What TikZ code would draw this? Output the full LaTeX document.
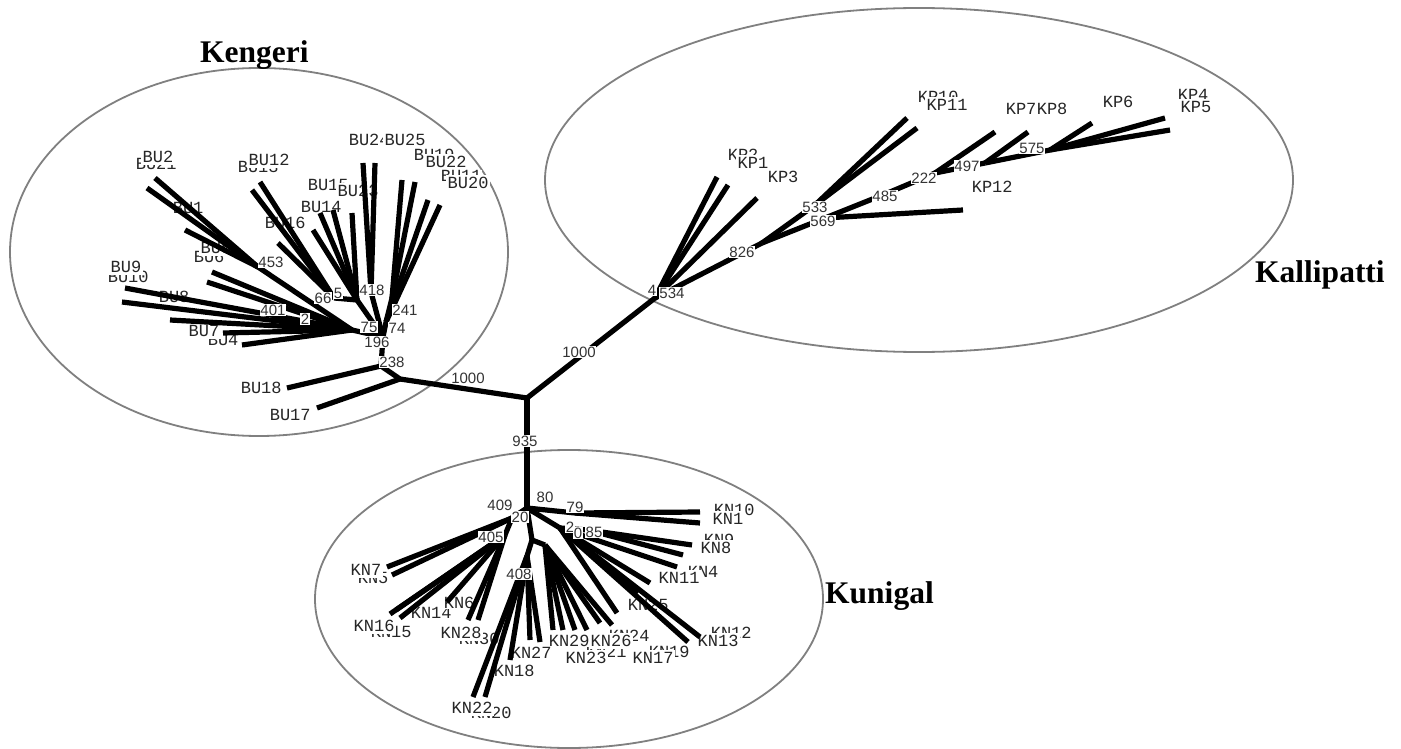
\documentclass[tikz,border=0pt]{standalone}
\usepackage{fontspec}
\setmainfont{Liberation Serif}
\newfontfamily\leaffont{Liberation Mono}
\newfontfamily\numfont{Liberation Sans}
\begin{document}
\begin{tikzpicture}[x=1pt,y=-1pt,
  br/.style={line width=5.2pt, black},
  leaf/.style={font=\leaffont\fontsize{17}{17}\selectfont, text=black!85, inner sep=0.6pt, anchor=west, fill=white},
  cover/.style={leaf, inner xsep=1.5pt, inner ysep=2.5pt},
  boot/.style={font=\numfont\fontsize{15}{15}\selectfont, text=black!80, fill=white, inner sep=0.8pt},
  grp/.style={font=\bfseries\fontsize{31.5}{32}\selectfont, anchor=base west, inner sep=0pt},
  hull/.style={draw=black!50, line width=1.8pt}]
\fill[white] (0,0) rectangle (1401,749);
\useasboundingbox (0,0) rectangle (1401,749);

% population hulls
\draw[hull] (259,252) ellipse [x radius=249pt, y radius=184pt];
\draw[hull] (919,180) ellipse [x radius=374pt, y radius=172pt];
\draw[hull] (569,599) ellipse [x radius=254pt, y radius=149pt];

% ---------- tree coordinates ----------
\coordinate (R) at (527,398);
% Kengeri
\coordinate (k1) at (400,379);
\coordinate (k2) at (381,366);
\coordinate (k3) at (383,337);
\coordinate (kA) at (386,322);
\coordinate (kB) at (392,298);
\coordinate (kC) at (371,292);
\coordinate (kD) at (357,300);
\coordinate (kE) at (334,298);
\coordinate (kG) at (352,330);
\coordinate (kF) at (258,267);
\coordinate (BU17e) at (317,408);
\coordinate (BU18e) at (287,388);
\coordinate (BU20a) at (428,200);
\coordinate (BU20b) at (440,205);
\coordinate (BU22a) at (402,180);
\coordinate (BU22b) at (415,182);
\coordinate (BU25a) at (363,163);
\coordinate (BU25b) at (375,163);
\coordinate (BU23e) at (352,213);
\coordinate (BU14a) at (320,213);
\coordinate (BU14b) at (333,210);
\coordinate (BU14c) at (313,230);
\coordinate (BU16e) at (278,243);
\coordinate (BU12a) at (260,182);
\coordinate (BU12b) at (252,190);
\coordinate (BU9e) at (125,288);
\coordinate (BU10e) at (122,302);
\coordinate (BU8e) at (170,320);
\coordinate (BU7e) at (223,333);
\coordinate (BU4e) at (242,345);
\coordinate (BU5e) at (212,272);
\coordinate (BU6e) at (207,282);
\coordinate (BU2a) at (155,178);
\coordinate (BU2b) at (147,188);
\coordinate (BU1e) at (185,230);
% Kallipatti
\coordinate (p0) at (655,298);
\coordinate (p1) at (762,243);
\coordinate (p2) at (815,205);
\coordinate (p3) at (825,218);
\coordinate (p4) at (890,192);
\coordinate (p5) at (935,173);
\coordinate (p6) at (985,163);
\coordinate (p7) at (1050,150);
\coordinate (KP1a) at (717,177);
\coordinate (KP1b) at (728,185);
\coordinate (KP3e) at (757,198);
\coordinate (KP11a) at (907,118);
\coordinate (KP11b) at (917,128);
\coordinate (KP12e) at (963,210);
\coordinate (KP7e) at (995,132);
\coordinate (KP8e) at (1028,132);
\coordinate (KP6e) at (1092,123);
\coordinate (KP4e) at (1165,118);
\coordinate (KP5e) at (1170,130);
% Kunigal
\coordinate (n0) at (527,508);
\coordinate (na) at (512,518);
\coordinate (nb) at (505,535);
\coordinate (nc) at (532,540);
\coordinate (nd) at (527,556);
\coordinate (ne) at (545,545);
\coordinate (nf) at (560,528);
\coordinate (ng) at (588,530);
\coordinate (nh) at (575,513);
\coordinate (KN7e) at (387,567);
\coordinate (KN5e) at (392,575);
\coordinate (KN14e) at (400,618);
\coordinate (KN16e) at (390,614);
\coordinate (KN15e) at (396,610);
\coordinate (KN6e) at (447,602);
\coordinate (KN28a) at (478,620);
\coordinate (KN28b) at (468,620);
\coordinate (KN22a) at (473,697);
\coordinate (KN22b) at (485,697);
\coordinate (KN18e) at (510,660);
\coordinate (KN27a) at (540,642);
\coordinate (KN27b) at (530,640);
\coordinate (KN23e) at (553,630);
\coordinate (KN29a) at (563,630);
\coordinate (KN29b) at (575,630);
\coordinate (KN26e) at (587,630);
\coordinate (KN17a) at (600,623);
\coordinate (KN17b) at (612,625);
\coordinate (KN25a) at (617,613);
\coordinate (KN25b) at (638,593);
\coordinate (KN13a) at (688,642);
\coordinate (KN13b) at (700,637);
\coordinate (KN11a) at (650,583);
\coordinate (KN11b) at (677,567);
\coordinate (KN9e) at (692,545);
\coordinate (KN8e) at (683,555);
\coordinate (KN10e) at (700,512);
\coordinate (KN1e) at (700,523);

% ---------- leaf labels (each later label overlaps the one set before it) ----------
% Kengeri
\node[leaf] (lBU21) at (135,164) {BU21};
\node[cover] (lBU2) at (141,157) {BU2};
\node[leaf] (lBU13) at (237,167) {BU13};
\node[cover] (lBU12) at (247,160) {BU12};
\node[leaf] (lBU24) at (348,140) {BU24};
\node[cover] (lBU25) at (383,140) {BU25};
\node[leaf] (lBU19) at (413,155) {BU19};
\node[cover] (lBU22) at (424,162) {BU22};
\node[leaf] (lBU11) at (440,176) {BU11};
\node[cover] (lBU20) at (446,183) {BU20};
\node[leaf] (lBU15) at (307,185) {BU15};
\node[cover] (lBU23) at (336,191) {BU23};
\node[leaf] (lBU14) at (300,207) {BU14};
\node[leaf] (lBU16) at (264,223) {BU16};
\node[leaf] (lBU1) at (172,208) {BU1};
\node[leaf] (lBU6) at (193,257) {BU6};
\node[cover] (lBU5) at (199,248) {BU5};
\node[leaf] (lBU10) at (107,277) {BU10};
\node[cover] (lBU9) at (109,267) {BU9};
\node[leaf] (lBU8) at (158,297) {BU8};
\node[leaf] (lBU4) at (207,340) {BU4};
\node[cover] (lBU7) at (187,331) {BU7};
\node[leaf] (lBU18) at (240,388) {BU18};
\node[leaf] (lBU17) at (269,415) {BU17};
% Kallipatti
\node[leaf] (lKP2) at (727,155) {KP2};
\node[cover] (lKP1) at (736,163) {KP1};
\node[leaf] (lKP3) at (767,177) {KP3};
\node[leaf] (lKP10) at (917,97) {KP10};
\node[cover] (lKP11) at (925,105) {KP11};
\node[leaf] (lKP7) at (1005,109) {KP7};
\node[leaf] (lKP8) at (1036,109) {KP8};
\node[leaf] (lKP6) at (1102,102) {KP6};
\node[leaf] (lKP4) at (1177,95) {KP4};
\node[cover] (lKP5) at (1179,107) {KP5};
\node[leaf] (lKP12) at (971,187) {KP12};
% Kunigal
\node[leaf] (lKN10) at (713,510) {KN10};
\node[cover] (lKN1) at (711,519) {KN1};
\node[leaf] (lKN9) at (703,540) {KN9};
\node[cover] (lKN8) at (699,548) {KN8};
\node[leaf] (lKN4) at (687,572) {KN4};
\node[cover] (lKN11) at (657,578) {KN11};
\node[leaf] (lKN25) at (627,605) {KN25};
\node[leaf] (lKN12) at (710,633) {KN12};
\node[cover] (lKN13) at (696,641) {KN13};
\node[leaf] (lKN19) at (648,652) {KN19};
\node[cover] (lKN17) at (631,658) {KN17};
\node[leaf] (lKN21) at (585,652) {KN21};
\node[cover] (lKN23) at (564,658) {KN23};
\node[leaf] (lKN24) at (608,636) {KN24};
\node[cover] (lKN26) at (589,641) {KN26};
\node[leaf] (lKN29) at (548,641) {KN29};
\node[leaf] (lKN27) at (510,653) {KN27};
\node[leaf] (lKN18) at (493,671) {KN18};
\node[leaf] (lKN20) at (470,713) {KN20};
\node[cover] (lKN22) at (450,708) {KN22};
\node[leaf] (lKN30) at (458,639) {KN30};
\node[cover] (lKN28) at (439,633) {KN28};
\node[leaf] (lKN14) at (410,613) {KN14};
\node[leaf] (lKN6) at (443,603) {KN6};
\node[leaf] (lKN15) at (370,632) {KN15};
\node[cover] (lKN16) at (352,626) {KN16};
\node[leaf] (lKN5) at (357,578) {KN5};
\node[cover] (lKN7) at (349,570) {KN7};

% ---------- branches ----------
\draw[br] (R) -- (k1);
\draw[br] (k1) -- (BU17e);
\draw[br] (k1) -- (k2);
\draw[br] (k2) -- (BU18e);
\draw[br] (k2) -- (k3);
\draw[br] (k3) -- (kA);
\draw[br] (kA) -- (BU20a);
\draw[br] (kA) -- (BU20b);
\draw[br] (kA) -- (kB);
\draw[br] (kB) -- (BU22a);
\draw[br] (kB) -- (BU22b);
\draw[br] (k3) -- (kC);
\draw[br] (kC) -- (BU25a);
\draw[br] (kC) -- (BU25b);
\draw[br] (k3) -- (kD);
\draw[br] (kD) -- (BU23e);
\draw[br] (kD) -- (BU14a);
\draw[br] (kD) -- (BU14b);
\draw[br] (kD) -- (BU14c);
\draw[br] (kD) -- (kE);
\draw[br] (kE) -- (BU16e);
\draw[br] (kE) -- (BU12a);
\draw[br] (kE) -- (BU12b);
\draw[br] (k3) -- (kG);
\draw[br] (kG) -- (BU9e);
\draw[br] (kG) -- (BU10e);
\draw[br] (kG) -- (BU8e);
\draw[br] (kG) -- (BU7e);
\draw[br] (kG) -- (BU4e);
\draw[br] (kG) -- (BU5e);
\draw[br] (kG) -- (BU6e);
\draw[br] (kG) -- (kF);
\draw[br] (kF) -- (BU2a);
\draw[br] (kF) -- (BU2b);
\draw[br] (kF) -- (BU1e);

\draw[br] (R) -- (p0);
\draw[br] (p0) -- (KP1a);
\draw[br] (p0) -- (KP1b);
\draw[br] (p0) -- (KP3e);
\draw[br] (p0) -- (p1);
\draw[br] (p1) -- (p2);
\draw[br] (p2) -- (KP11a);
\draw[br] (p2) -- (KP11b);
\draw[br] (p1) -- (p3);
\draw[br] (p3) -- (KP12e);
\draw[br] (p3) -- (p4);
\draw[br] (p4) -- (p5);
\draw[br] (p5) -- (KP7e);
\draw[br] (p5) -- (p6);
\draw[br] (p6) -- (KP8e);
\draw[br] (p6) -- (p7);
\draw[br] (p7) -- (KP6e);
\draw[br] (p7) -- (KP4e);
\draw[br] (p7) -- (KP5e);

\draw[br] (R) -- (n0);
\draw[br] (n0) -- (na);
\draw[br] (na) -- (KN7e);
\draw[br] (na) -- (KN5e);
\draw[br] (na) -- (nb);
\draw[br] (nb) -- (KN14e);
\draw[br] (nb) -- (KN16e);
\draw[br] (nb) -- (KN15e);
\draw[br] (nb) -- (KN6e);
\draw[br] (nb) -- (KN28a);
\draw[br] (nb) -- (KN28b);
\draw[br] (n0) -- (nc);
\draw[br] (nc) -- (nd);
\draw[br] (nd) -- (KN22a);
\draw[br] (nd) -- (KN22b);
\draw[br] (nd) -- (KN18e);
\draw[br] (nd) -- (KN27a);
\draw[br] (nd) -- (KN27b);
\draw[br] (nc) -- (ne);
\draw[br] (ne) -- (KN23e);
\draw[br] (ne) -- (KN29a);
\draw[br] (ne) -- (KN29b);
\draw[br] (ne) -- (KN26e);
\draw[br] (ne) -- (KN17a);
\draw[br] (ne) -- (KN17b);
\draw[br] (n0) -- (nf);
\draw[br] (nf) -- (KN25a);
\draw[br] (nf) -- (KN25b);
\draw[br] (nf) -- (KN13a);
\draw[br] (nf) -- (KN13b);
\draw[br] (nf) -- (KN11a);
\draw[br] (nf) -- (KN11b);
\draw[br] (nf) -- (ng);
\draw[br] (ng) -- (KN9e);
\draw[br] (ng) -- (KN8e);
\draw[br] (n0) -- (nh);
\draw[br] (nh) -- (KN10e);
\draw[br] (nh) -- (KN1e);

% ---------- bootstrap values ----------
\node[boot] (b453) at (271,262) {453};
\node[boot] (b66) at (323,298) {66};
\node[boot] (b5) at (338,293) {5};
\node[boot] (b418) at (372,290) {418};
\node[boot] (b241) at (405,310) {241};
\node[boot] (b75) at (369,327) {75};
\node[boot] (b74) at (397,328) {74};
\node[boot] (b196) at (377,342) {196};
\node[boot] (b238) at (392,362) {238};
\node[boot] (b401) at (273,310) {401};
\node[boot] (b2k) at (305,319) {2};
\node[boot] (b1000k) at (468,378) {1000};

\node[boot] (b4) at (652,290) {4};
\node[boot] (b534) at (672,293) {534};
\node[boot] (b1000p) at (579,352) {1000};
\node[boot] (b826) at (742,252) {826};
\node[boot] (b533) at (815,207) {533};
\node[boot] (b569) at (823,221) {569};
\node[boot] (b485) at (885,196) {485};
\node[boot] (b222) at (924,178) {222};
\node[boot] (b497) at (967,166) {497};
\node[boot] (b575) at (1032,148) {575};

\node[boot] (b935) at (525,441) {935};
\node[boot] (b409) at (500,505) {409};
\node[boot] (b20) at (520,517) {20};
\node[boot] (b80) at (545,497) {80};
\node[boot] (b79) at (575,507) {79};
\node[boot] (b405) at (491,537) {405};
\node[boot] (b408) at (519,574) {408};
\node[boot] (b2n) at (570,527) {2};
\node[boot] (b0n) at (578,533) {0};
\node[boot] (b85) at (594,532) {85};

% ---------- population names ----------
\node[grp] (tKengeri) at (200,63) {Kengeri};
\node[grp] (tKallipatti) at (1255,282) {Kallipatti};
\node[grp] (tKunigal) at (825,603) {Kunigal};
\end{tikzpicture}
\end{document}
